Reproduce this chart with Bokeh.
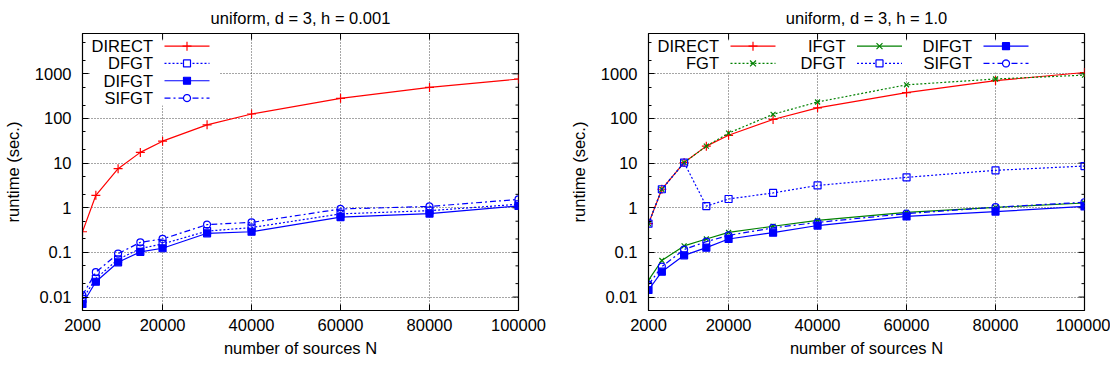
import math
from bokeh.plotting import figure
from bokeh.layouts import row
from bokeh.models import (Range1d, FixedTicker, CustomJSTickFormatter, Label,
                          BoxAnnotation, PolyAnnotation, Arrow)
from bokeh.embed import file_html
from bokeh.resources import INLINE

# ---------------- data ----------------
N = [2000, 5000, 10000, 15000, 20000, 30000, 40000, 60000, 80000, 100000]

# left panel: uniform, d = 3, h = 0.001
direct_l = [0.29, 1.9, 7.5, 17.4, 31, 72, 126, 282, 497, 766]
dfgt_l = [0.009, 0.026, 0.07, 0.122, 0.155, 0.30, 0.36, 0.73, 0.86, 1.2]
difgt_l = [0.007, 0.022, 0.06, 0.103, 0.124, 0.268, 0.29, 0.62, 0.74, 1.1]
sifgt_l = [0.011, 0.036, 0.094, 0.168, 0.20, 0.42, 0.47, 0.94, 1.07, 1.54]

# right panel: uniform, d = 3, h = 1.0
direct_r = [0.44, 2.6, 10.3, 24, 42, 95, 173, 380, 705, 1070]
fgt_r = [0.44, 2.6, 10.3, 24, 47, 124, 234, 567, 766, 935]
ifgt_r = [0.024, 0.066, 0.14, 0.20, 0.28, 0.386, 0.52, 0.79, 1.02, 1.28]
dfgt_r = [0.44, 2.6, 10.3, 1.09, 1.57, 2.15, 3.16, 4.8, 6.9, 8.6]
difgt_r = [0.0144, 0.037, 0.086, 0.128, 0.20, 0.277, 0.40, 0.64, 0.82, 1.07]
sifgt_r = [0.019, 0.048, 0.116, 0.174, 0.24, 0.355, 0.47, 0.74, 1.03, 1.33]

XTICKS = [2000, 20000, 40000, 60000, 80000, 100000]
YTICKS = [0.01, 0.1, 1, 10, 100, 1000]
YMINOR = [0.02, 0.05, 0.2, 0.5, 2, 5, 20, 50, 200, 500, 2000, 5000]
XMIN, XMAX = 2000, 100000
YMIN, YMAX = 0.005, 8000

TITLE_L = "uniform, d = 3, h = 0.001"
TITLE_R = "uniform, d = 3, h = 1.0"
XLABEL = "number of sources N"
YLABEL = "runtime (sec.)"

# ---------------- style ----------------
FONT = "Liberation Sans"
FS = "16.5px"
RED, GREEN, BLUE = "#ff0000", "#008000", "#0000ff"
STYLES = {
    "DIRECT": dict(color=RED, dash="solid", marker="cross", size=9, fill=True),
    "FGT": dict(color=GREEN, dash="2 2", marker="x", size=7, fill=True),
    "IFGT": dict(color=GREEN, dash="solid", marker="x", size=7, fill=True),
    "DFGT": dict(color=BLUE, dash="2 2", marker="square", size=7, fill=False),
    "DIFGT": dict(color=BLUE, dash="solid", marker="square", size=7, fill=True),
    "SIFGT": dict(color=BLUE, dash="6 3 2 3", marker="circle", size=7, fill=False),
}
FH = 277
MAJ, MIN = 6, 3


def style_axis(ax):
    ax.axis_line_color = "black"
    ax.major_tick_in = MAJ
    ax.major_tick_out = 0
    ax.minor_tick_in = MIN
    ax.minor_tick_out = 0
    ax.major_tick_line_color = "black"
    ax.minor_tick_line_color = "black"
    ax.major_label_text_font = FONT
    ax.major_label_text_font_size = FS
    ax.major_label_text_color = "black"
    ax.axis_label_text_font = FONT
    ax.axis_label_text_font_size = FS
    ax.axis_label_text_font_style = "normal"
    ax.axis_label_text_color = "black"


def seg(p, x0, y0, x1, y1, color, width=1.2, dash="solid"):
    p.add_layout(Arrow(x_start=x0, y_start=y0, x_end=x1, y_end=y1,
                       start_units="screen", end_units="screen", start=None, end=None,
                       line_color=color, line_width=width, line_dash=dash, line_alpha=1))


def key_sample(p, name, x0, yc, gw):
    st = STYLES[name]
    c = st["color"]
    seg(p, x0, yc, x0 + gw, yc, c, dash=st["dash"])
    cx = x0 + gw / 2
    h = st["size"] / 2
    m = st["marker"]
    if m == "square":
        p.add_layout(BoxAnnotation(left=cx - h, right=cx + h, bottom=yc - h, top=yc + h,
                                   left_units="screen", right_units="screen",
                                   top_units="screen", bottom_units="screen",
                                   fill_color=c if st["fill"] else "white",
                                   fill_alpha=1,
                                   line_color=c, line_alpha=1, line_width=1.2))
    elif m == "circle":
        ts = [2 * math.pi * i / 24 for i in range(24)]
        p.add_layout(PolyAnnotation(xs=[cx + h * math.cos(t) for t in ts],
                                    ys=[yc + h * math.sin(t) for t in ts],
                                    xs_units="screen", ys_units="screen",
                                    fill_color="white", fill_alpha=1,
                                    line_color=c, line_alpha=1, line_width=1.2))
    elif m == "cross":
        seg(p, cx - h, yc, cx + h, yc, c)
        seg(p, cx, yc - h, cx, yc + h, c)
    elif m == "x":
        d = h * 0.85
        seg(p, cx - d, yc - d, cx + d, yc + d, c)
        seg(p, cx - d, yc + d, cx + d, yc - d, c)


def make_fig(title, bl, fw, br, series, columns, box_right, box_bottom):
    p = figure(frame_width=fw, frame_height=FH, y_axis_type="log",
               x_range=Range1d(XMIN, XMAX), y_range=Range1d(YMIN, YMAX),
               output_backend="svg", toolbar_location=None,
               min_border_left=bl, min_border_right=br, min_border_top=32,
               min_border_bottom=53, title=title)
    p.background_fill_color = "white"
    p.border_fill_color = "white"
    p.outline_line_color = "black"
    p.outline_line_width = 1.2
    p.title.align = "center"
    p.title.text_font = FONT
    p.title.text_font_size = FS
    p.title.text_font_style = "normal"
    p.title.text_color = "black"
    p.title.standoff = 13

    xt = FixedTicker(ticks=XTICKS, minor_ticks=[])
    yt = FixedTicker(ticks=YTICKS, minor_ticks=YMINOR)
    fmt = CustomJSTickFormatter(code="return String(tick);")

    p.xaxis.ticker = xt
    p.yaxis.ticker = yt
    p.xaxis.formatter = fmt
    p.yaxis.formatter = fmt
    p.xaxis.axis_label = XLABEL
    p.yaxis.axis_label = YLABEL
    for ax in p.xaxis:
        style_axis(ax)
        ax.major_label_standoff = 8
        ax.axis_label_standoff = 5
    for ax in p.yaxis:
        style_axis(ax)
        ax.major_label_standoff = 11
        ax.axis_label_standoff = 10

    for g in (p.xgrid, p.ygrid):
        g.grid_line_color = "black"
        g.grid_line_alpha = 0.7
        g.grid_line_dash = "1 2"
        g.grid_line_width = 1
    p.xgrid.ticker = xt
    p.ygrid.ticker = yt

    # mirrored inward ticks on the top and right borders
    span = math.log10(YMAX / YMIN)
    k = 10 ** (-MAJ * span / FH)
    p.segment(x0=XTICKS, x1=XTICKS, y0=[YMAX] * len(XTICKS), y1=[YMAX * k] * len(XTICKS),
              line_color="black", line_width=1)
    for ticks, ln in ((YTICKS, MAJ), (YMINOR, MIN)):
        dx = ln * (XMAX - XMIN) / fw
        p.segment(x0=[XMAX] * len(ticks), x1=[XMAX - dx] * len(ticks), y0=ticks, y1=ticks,
                  line_color="black", line_width=1)

    for name, ys in series:
        st = STYLES[name]
        p.line(N, ys, line_color=st["color"], line_width=1.2, line_dash=st["dash"])
        p.scatter(N, ys, marker=st["marker"], size=st["size"], line_color=st["color"],
                  line_width=1.2, fill_color=st["color"] if st["fill"] else None)

    # opaque key area
    p.add_layout(BoxAnnotation(left=8, right=box_right, top=FH - 7, bottom=FH - box_bottom,
                               left_units="screen", right_units="screen",
                               top_units="screen", bottom_units="screen",
                               fill_color="white", fill_alpha=1, line_color=None))
    KX0, KDX, ROW, KTOP, GW = 82, 126.5, 17.3, 4, 45
    for ci, col in enumerate(columns):
        for ri, n in enumerate(col):
            yc = FH - (KTOP + ROW * (ri + 0.5))
            x0 = KX0 + ci * KDX
            key_sample(p, n, x0, yc, GW)
            p.add_layout(Label(x=x0 - 11.5, y=yc, x_units="screen", y_units="screen",
                               text=n, text_align="right", text_baseline="middle",
                               text_font=FONT, text_font_size=FS, text_color="black"))
    return p


p1 = make_fig(TITLE_L, 76, 436, 40,
              [("DIRECT", direct_l), ("DFGT", dfgt_l), ("DIFGT", difgt_l), ("SIFGT", sifgt_l)],
              [["DIRECT", "DFGT", "DIFGT", "SIFGT"]], 137, 72)
p2 = make_fig(TITLE_R, 90, 436, 26,
              [("DIRECT", direct_r), ("FGT", fgt_r), ("IFGT", ifgt_r), ("DFGT", dfgt_r),
               ("DIFGT", difgt_r), ("SIFGT", sifgt_r)],
              [["DIRECT", "FGT"], ["IFGT", "DFGT"], ["DIFGT", "SIFGT"]], 392, 39)

layout = row(p1, p2)
open("out.html", "w").write(file_html(layout, INLINE))
